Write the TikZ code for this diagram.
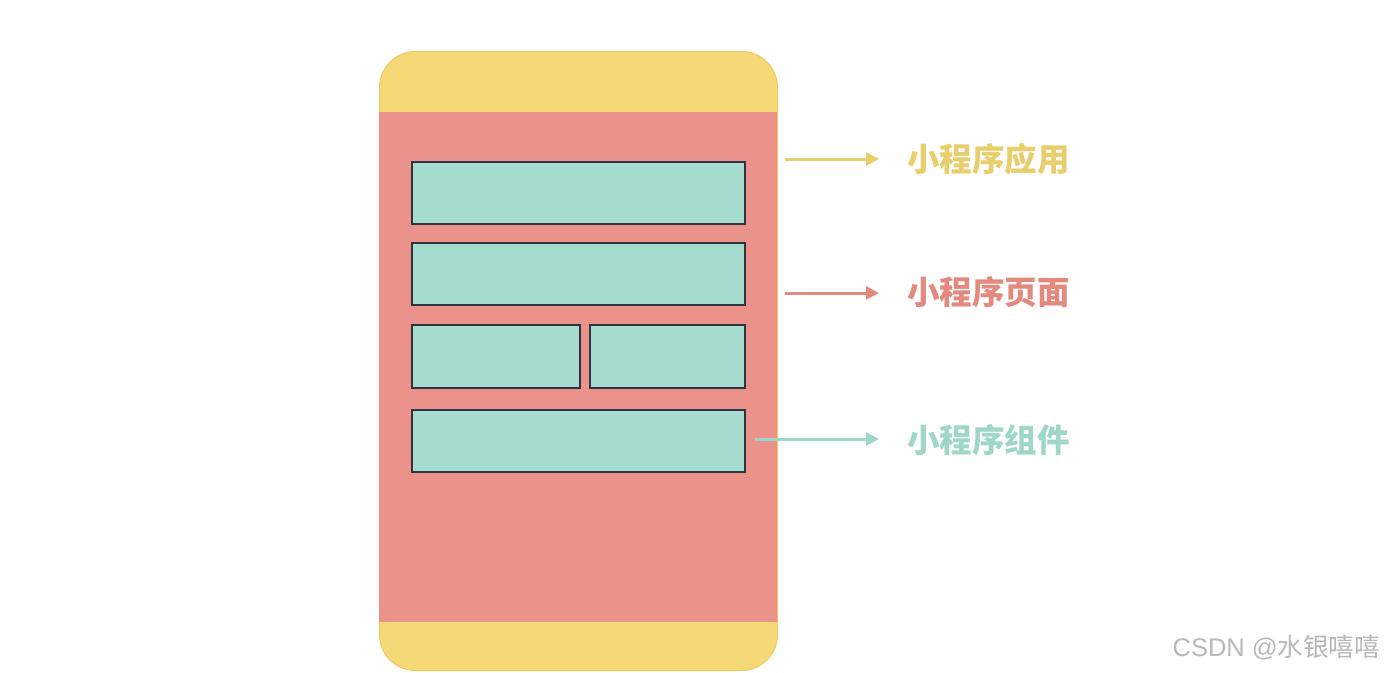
\documentclass[tikz,border=0pt]{standalone}
\usepackage{fontspec}
\newfontfamily\cjk{Noto Sans CJK SC}
\newfontfamily\wmfont{Liberation Sans}
\usetikzlibrary{arrows.meta}
\definecolor{phy}{HTML}{F5D976}
\definecolor{phyd}{HTML}{EDCB62}
\definecolor{phr}{HTML}{EB928A}
\definecolor{bxt}{HTML}{A6DCD0}
\definecolor{bxd}{HTML}{2E3540}
\definecolor{ay}{HTML}{E8CF6C}
\definecolor{ar}{HTML}{E3897E}
\definecolor{at}{HTML}{9ED6C8}
\tikzset{
  cbox/.style={draw=bxd, line width=2pt, fill=bxt, anchor=north west, inner sep=0pt, minimum height=62pt},
  lab/.style={font=\cjk\bfseries\fontsize{32.5}{32.5}\selectfont, anchor=west, inner sep=0pt},
  arr/.style={line width=3pt, -{Triangle[length=13pt,width=13pt]}},
}
\begin{document}
\begin{tikzpicture}[x=1pt,y=-1pt]
\useasboundingbox (0,0) rectangle (1384,672);
\fill[white] (0,0) rectangle (1384,672);
% phone
\node[draw=phyd, line width=1pt, fill=phy, rounded corners=36pt, minimum width=398pt, minimum height=619pt, anchor=north west, inner sep=0pt] (phone) at (379,51) {};
\node[fill=phr, minimum width=398pt, minimum height=510pt, anchor=north west, inner sep=0pt] (body) at (379,112) {};
% boxes
\node[cbox, minimum width=333pt] (b1) at (411,161) {};
\node[cbox, minimum width=333pt] (b2) at (411,242) {};
\node[cbox, minimum width=168pt, minimum height=63pt] (b3) at (411,324) {};
\node[cbox, minimum width=155pt, minimum height=63pt] (b4) at (589,324) {};
\node[cbox, minimum width=333pt] (b5) at (411,409) {};
% labels
\node[lab, text=ay] (l1) at (907,159) {小程序应用};
\node[lab, text=ar] (l2) at (907,292) {小程序页面};
\node[lab, text=at] (l3) at (907,440) {小程序组件};
\coordinate (s1) at (785,159);
\coordinate (s2) at (785,293);
\coordinate (s3) at (755,439);
\draw[arr, draw=ay, fill=ay] (s1) -- ([xshift=-28pt]l1.west |- s1);
\draw[arr, draw=ar, fill=ar] (s2) -- ([xshift=-28pt]l2.west |- s2);
\draw[arr, draw=at, fill=at] (s3) -- ([xshift=-28pt]l3.west |- s3);
% watermark
\node[font=\fontsize{25.5}{25.5}\selectfont, text=black!28, anchor=east, inner sep=0pt] (wm) at (1380,648) {\wmfont CSDN @\cjk 水银嘻嘻};
\end{tikzpicture}
\end{document}
